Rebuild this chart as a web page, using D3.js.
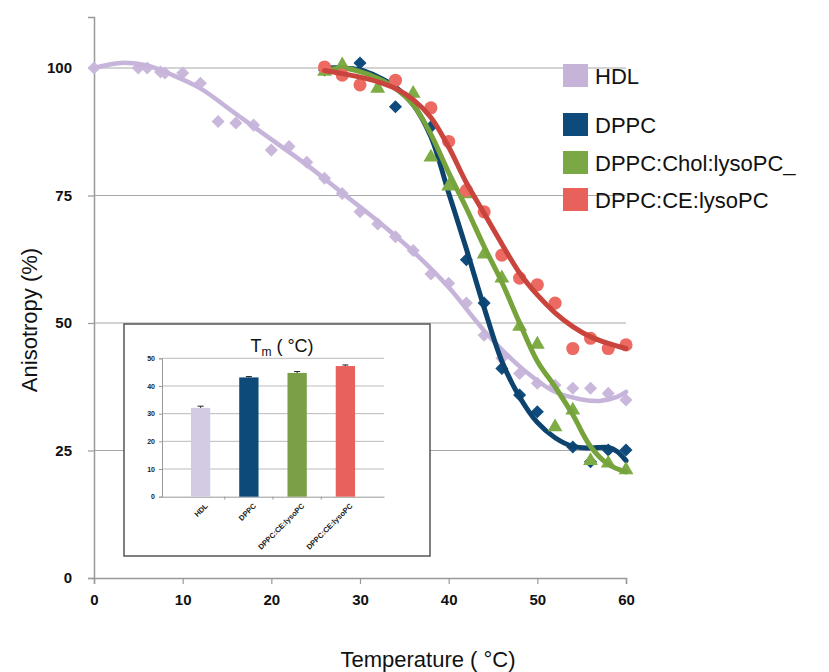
<!DOCTYPE html>
<html>
<head>
<meta charset="utf-8">
<script src="https://cdn.jsdelivr.net/npm/d3@7"></script>
<style>
  body { margin: 0; background: #fff; }
  svg { display: block; font-family: "Liberation Sans", Arial, sans-serif; }
</style>
</head>
<body>
<div id="chart"></div>
<script>
// measured points
let hdlT = [0,5,6,7.5,8,10,12,14,16,18,20,22,24,26,28,30,32,34,36,38,40,42,44,46,48,50,52,54,56,58,60];
let hdlA = [100,100,100,99.2,99,99,97,89.5,89.2,88.8,83.9,84.6,81.5,78.4,75.4,71.8,69.4,66.9,64.2,59.6,57.8,53.9,47.6,43.1,40.1,38.2,37.8,37.2,37.2,36.2,34.9];
let dppcT = [26,30,34,38,42,44,46,48,50,54,56,58,60];
let dppcA = [99.6,101,92.4,88.5,62.4,53.9,41.1,35.9,32.6,25.7,22.8,25.1,25.1];
let cholT = [26,28,32,36,38,40,42,44,46,48,50,52,54,56,58,60];
let cholA = [99.3,100.6,96,95,82.5,76.8,75.3,63.5,58.8,49.3,45.8,29.6,32.9,23,22.5,21.2];
let ceT = [26,28,30,34,38,40,42,44,46,48,50,52,54,56,58,60];
let ceA = [100.2,98.6,96.7,97.6,92.2,85.6,76,71.8,63.3,58.8,57.5,53.9,45,47,45,45.7];

// trend lines
let hdlFitT = [0,3,6,9,12,16,20,24,28,32,36,40,44,48,52,55,57,59,60];
let hdlFitA = [100,101,100.5,98.5,96,91,86,81,75.5,70,64,57,48.5,41.5,36.5,35,34.7,35.5,36.5];
let dppcFitT = [26,28,30,32,34,36,38,40,42,44,46,48,50,52,54,56,58,59,60];
let dppcFitA = [100,100,99.6,98.3,96.3,92.8,86.5,75.5,64.5,53,42.5,35.5,30.5,27.5,25.8,25.5,25.6,24.8,23];
let cholFitT = [26,28,30,32,34,36,38,40,42,44,46,48,50,52,54,56,58,60];
let cholFitA = [99.5,100,99.3,98,96,92.8,87,79.5,72.5,65,58,50,42.5,37.5,32,25.8,22.3,20.8];
let ceFitT = [26,28,30,32,34,36,38,40,42,44,46,48,50,52,54,56,58,60];
let ceFitA = [99.5,98.9,98.2,97.3,96,93.8,90.3,84.5,77.5,71.5,65.5,59.8,55.5,52,49.3,47.3,46,45];

let seriesNames = ["HDL", "DPPC", "DPPC:Chol:lysoPC_", "DPPC:CE:lysoPC"];
let xTicks = [0,10,20,30,40,50,60];
let yTicks = [0,25,50,75,100];

// inset Tm bars
let tmLabels = ["HDL", "DPPC", "DPPC:CE:lysoPC", "DPPC:CE:lysoPC"];
let tmVals = [32.1, 43.1, 44.7, 47.2];
let tmErr = [0.6, 0.3, 0.5, 0.4];
let tmTicks = [0,10,20,30,40,50];

let W = 829, H = 672;
let svg = d3.select("#chart").append("svg").attr("width", W).attr("height", H);

let xScale = d3.scaleLinear().domain([0, 60]).range([94, 626]);
let yScale = d3.scaleLinear().domain([0, 110]).range([578, 17]);

// grid
svg.append("g").selectAll("line").data(yTicks.filter(d => d > 0)).enter().append("line")
    .attr("x1", xScale(0)).attr("x2", xScale(60))
    .attr("y1", d => yScale(d)).attr("y2", d => yScale(d))
    .attr("stroke", "#a8a8a8").attr("stroke-width", 1.2);

// axes
let xAxis = svg.append("g").attr("transform", "translate(0," + yScale(0) + ")")
    .call(d3.axisBottom(xScale).tickValues(xTicks).tickSize(6).tickPadding(10));
let yAxis = svg.append("g").attr("transform", "translate(" + xScale(0) + ",0)")
    .call(d3.axisLeft(yScale).tickValues(yTicks).tickSize(6).tickPadding(10));
[xAxis, yAxis].forEach(a => {
    a.select(".domain").attr("stroke", "#999").attr("stroke-width", 1.5);
    a.selectAll(".tick line").attr("stroke", "#999").attr("stroke-width", 1.2);
    a.selectAll("text").attr("font-size", 15).attr("font-weight", "bold").attr("fill", "#111")
        .attr("font-family", "'Liberation Sans', Arial, sans-serif");
});
yAxis.selectAll("text").attr("dx", -6);

svg.append("text").text("Temperature ( °C)")
    .attr("x", 428).attr("y", 667).attr("text-anchor", "middle")
    .attr("font-size", 22).attr("fill", "#111");
svg.append("text").text("Anisotropy (%)")
    .attr("transform", "translate(37,320)rotate(-90)").attr("text-anchor", "middle")
    .attr("font-size", 22).attr("fill", "#111");

// inset
let inset = svg.append("g");
inset.append("rect").attr("x", 124).attr("y", 324).attr("width", 306).attr("height", 232)
    .attr("fill", "#fff").attr("stroke", "#555").attr("stroke-width", 1.5);

let bx = d3.scaleBand().domain(d3.range(tmVals.length)).range([162, 384]).padding(0.6);
let by = d3.scaleLinear().domain([0, 50]).range([496.7, 358.3]);

inset.append("g").selectAll("line").data(tmTicks.filter(d => d > 0)).enter().append("line")
    .attr("x1", 162).attr("x2", 384).attr("y1", d => by(d)).attr("y2", d => by(d))
    .attr("stroke", "#bbb").attr("stroke-width", 1);

let bxAxis = inset.append("g").attr("transform", "translate(0," + by(0) + ")")
    .call(d3.axisBottom(bx).tickSize(0).tickFormat(i => tmLabels[i]));
bxAxis.select(".domain").attr("stroke", "#999");
bxAxis.selectAll("text").attr("font-size", 7.5).attr("font-weight", "bold").attr("fill", "#222")
    .attr("text-anchor", "end").attr("transform", "translate(4,6)rotate(-45)").attr("dy", "0.3em");
// small ticks between the categories
let gap = (bx.step() - bx.bandwidth()) / 2;
inset.append("g").selectAll("line").data([1,2,3]).enter().append("line")
    .attr("x1", d => bx(d) - gap).attr("x2", d => bx(d) - gap)
    .attr("y1", by(0)).attr("y2", by(0) + 3)
    .attr("stroke", "#999");

let byAxis = inset.append("g").attr("transform", "translate(162,0)")
    .call(d3.axisLeft(by).tickValues(tmTicks).tickSize(3).tickPadding(4));
byAxis.select(".domain").attr("stroke", "#999");
byAxis.selectAll(".tick line").attr("stroke", "#999");
byAxis.selectAll("text").attr("font-size", 7).attr("font-weight", "bold").attr("fill", "#222");

let barColors = ["#d3cbe4", "#0e4a79", "#7b9f46", "#e7625c"];
inset.selectAll(".bar").data(tmVals).enter().append("rect")
    .attr("x", (d, i) => bx(i)).attr("width", bx.bandwidth())
    .attr("y", d => by(d)).attr("height", d => by(0) - by(d))
    .attr("fill", (d, i) => barColors[i]);
inset.selectAll(".err").data(tmVals).enter().append("path")
    .attr("d", (d, i) => {
        let c = bx(i) + bx.bandwidth() / 2;
        return "M" + c + "," + by(d) + "V" + by(d + tmErr[i]) + "M" + (c - 3) + "," + by(d + tmErr[i]) + "H" + (c + 3);
    })
    .attr("stroke", "#222").attr("stroke-width", 1).attr("fill", "none");

let ttl = inset.append("text").attr("x", 282).attr("y", 352).attr("text-anchor", "middle")
    .attr("font-size", 18).attr("fill", "#111");
ttl.append("tspan").text("T");
ttl.append("tspan").text("m").attr("font-size", 12).attr("dy", 4);
ttl.append("tspan").text(" ( °C)").attr("dy", -4);

// series
let series = [
    { t: hdlT, a: hdlA, ft: hdlFitT, fa: hdlFitA, mark: "diamond", fill: "#c9b8dc", line: "#c6b4da", lw: 4.5 },
    { t: dppcT, a: dppcA, ft: dppcFitT, fa: dppcFitA, mark: "diamond", fill: "#0f4b7c", line: "#0d446f", lw: 5 },
    { t: cholT, a: cholA, ft: cholFitT, fa: cholFitA, mark: "triangle", fill: "#7dab44", line: "#76a33b", lw: 5 },
    { t: ceT, a: ceA, ft: ceFitT, fa: ceFitA, mark: "circle", fill: "#ec6a62", line: "#c9443d", lw: 5 }
];

let line = d3.line().x(d => xScale(d[0])).y(d => yScale(d[1])).curve(d3.curveCatmullRom.alpha(0.5));

series.forEach(s => {
    let g = svg.append("g");
    let pts = s.t.map((t, i) => [t, s.a[i]]);
    let sym;
    if (s.mark === "diamond") sym = d3.symbol().type(d3.symbolSquare).size(85);
    else if (s.mark === "triangle") sym = d3.symbol().type(d3.symbolTriangle).size(95);
    else sym = d3.symbol().type(d3.symbolCircle).size(135);
    g.selectAll("path.m").data(pts).enter().append("path")
        .attr("d", sym)
        .attr("transform", d => "translate(" + xScale(d[0]) + "," + yScale(d[1]) + ")" + (s.mark === "diamond" ? "rotate(45)" : ""))
        .attr("fill", s.fill);
    g.append("path").datum(s.ft.map((t, i) => [t, s.fa[i]]))
        .attr("d", line).attr("fill", "none")
        .attr("stroke", s.line).attr("stroke-width", s.lw).attr("stroke-linecap", "round");
});

// legend
let legendY = [76, 125, 163, 200];
let legColors = ["#c5b3d8", "#0e4a7c", "#7aa844", "#e8625b"];
let leg = svg.append("g");
seriesNames.forEach((n, i) => {
    leg.append("rect").attr("x", 563).attr("y", legendY[i] - 12).attr("width", 25).attr("height", 23)
        .attr("fill", legColors[i]);
    leg.append("text").text(n).attr("x", 595).attr("y", legendY[i] + 8)
        .attr("font-size", 22).attr("fill", "#111");
});
</script>
</body>
</html>
